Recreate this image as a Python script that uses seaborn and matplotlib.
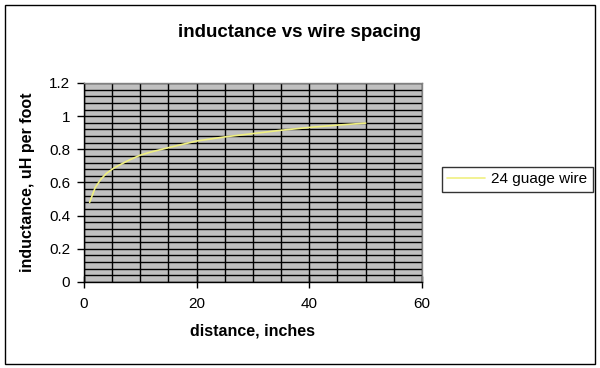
import matplotlib
matplotlib.use("Agg")
import matplotlib.pyplot as plt
import seaborn as sns
import pandas as pd
from matplotlib.ticker import MultipleLocator
from matplotlib.patches import Rectangle

## Data
distance = [1, 2, 3, 4, 5, 6, 8, 10, 12, 15, 20, 25, 30, 35, 40, 45, 50]
inductance = [0.48, 0.57, 0.62, 0.655, 0.68, 0.70, 0.735, 0.765, 0.785, 0.81,
              0.85, 0.875, 0.895, 0.915, 0.932, 0.946, 0.958]
series_name = "24 guage wire"

df = pd.DataFrame({"distance": distance, "inductance": inductance, "series": series_name})

sns.set_style("white")
plt.rcParams['font.family'] = ['Liberation Sans', 'DejaVu Sans']
plt.rcParams['text.color'] = 'black'
plt.rcParams['axes.labelcolor'] = 'black'
plt.rcParams['xtick.color'] = 'black'
plt.rcParams['ytick.color'] = 'black'

fig = plt.figure(figsize=(6, 3.68), dpi=100)
ax = fig.add_axes([0.14, 0.2337, 0.5633, 0.5408])

sns.lineplot(data=df, x="distance", y="inductance", hue="series",
             palette=["#f0f080"], linewidth=1.2, ax=ax, legend=False, zorder=3)

ax.set_facecolor("#c0c0c0")
ax.set_xlim(0, 60)
ax.set_ylim(0, 1.2)
ax.xaxis.set_major_locator(MultipleLocator(20))
ax.xaxis.set_minor_locator(MultipleLocator(5))
ax.yaxis.set_major_locator(MultipleLocator(0.2))
ax.yaxis.set_minor_locator(MultipleLocator(0.04))
ax.grid(which="both", color="black", linewidth=1)
ax.set_axisbelow(True)
ax.yaxis.set_major_formatter(plt.FuncFormatter(lambda v, p: f"{v:g}"))

for side in ["top", "right"]:
    ax.spines[side].set_color("#808080")
    ax.spines[side].set_linewidth(1)
for side in ["left", "bottom"]:
    ax.spines[side].set_color("black")
    ax.spines[side].set_linewidth(1)

ax.tick_params(axis="y", which="major", direction="out", length=5, width=1,
               labelsize=11, pad=5, left=True)
ax.tick_params(axis="x", which="major", direction="inout", length=8, width=1,
               labelsize=11, pad=7, bottom=True)
ax.tick_params(which="minor", length=0)

ax.set_xlabel("distance, inches", fontsize=11.5, fontweight="bold", labelpad=9)
ax.set_ylabel("inductance, uH per foot", fontsize=11.5, fontweight="bold", labelpad=10)

fig.text(0.5, 0.913, "inductance vs wire spacing", ha="center", va="center",
         fontsize=13.5, fontweight="bold")

# legend box on the right
handle = plt.Line2D([], [], color="#f0f080", linewidth=1.2)
leg = fig.legend([handle], [series_name], loc="center",
                 bbox_to_anchor=(0.862, 0.513), fontsize=11, frameon=True,
                 fancybox=False, edgecolor="black", borderpad=0.35,
                 handlelength=2.5, handletextpad=0.4)
leg.get_frame().set_linewidth(1)

# outer chart border
fig.patches.append(Rectangle((0.008, 0.012), 0.984, 0.975, transform=fig.transFigure,
                             fill=False, edgecolor="black", linewidth=1))

fig.savefig("out.png", dpi=100, facecolor="white")
